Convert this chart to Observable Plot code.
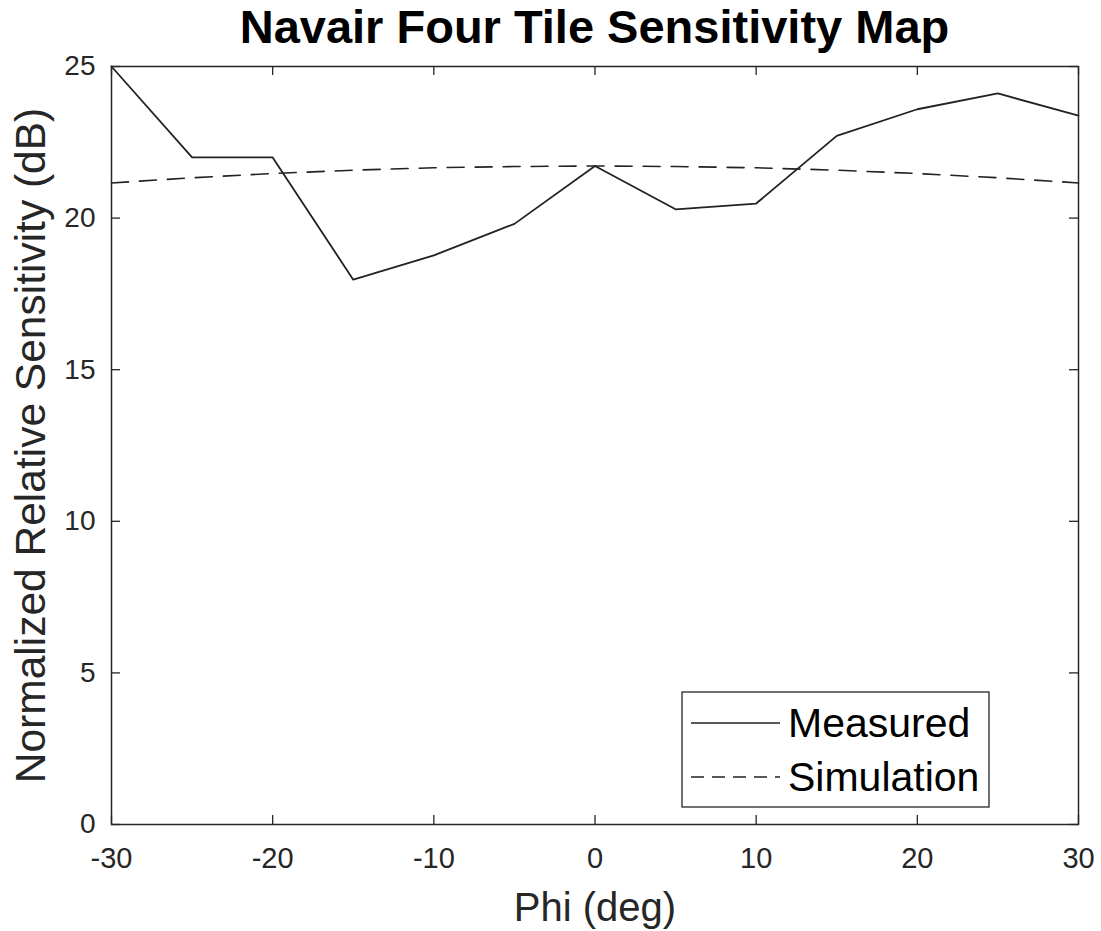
<!DOCTYPE html>
<html><head><meta charset="utf-8">
<script src="https://cdn.jsdelivr.net/npm/d3@7"></script>
<script src="https://cdn.jsdelivr.net/npm/@observablehq/plot@0.6"></script>
<style>
body{margin:0;background:#fff;font-family:"Liberation Sans",Arial,Helvetica,sans-serif;}
#wrap{position:relative;width:1101px;height:931px;overflow:hidden;}
#title{height:54px;line-height:54px;font-size:47px;font-weight:bold;text-align:center;padding-left:111px;padding-right:23px;color:#000;white-space:nowrap;}
#chart svg{overflow:visible;}
</style></head><body>
<div id="wrap"><div id="title">Navair Four Tile Sensitivity Map</div><div id="chart"></div></div>
<script>
const phi = [-30, -25, -20, -15, -10, -5, 0, 5, 10, 15, 20, 25, 30];
const measured = [25.0, 22.0, 22.0, 17.97, 18.77, 19.81, 21.72, 20.29, 20.48, 22.71, 23.59, 24.11, 23.38];
const simulation = [21.16, 21.33, 21.47, 21.58, 21.66, 21.70, 21.72, 21.70, 21.66, 21.58, 21.47, 21.33, 21.16];
const seriesNames = ["Measured", "Simulation"];
const xTicks = [-30, -20, -10, 0, 10, 20, 30];
const yTicks = [0, 5, 10, 15, 20, 25];
const xLabel = "Phi (deg)";
const yLabel = "Normalized Relative Sensitivity (dB)";

const top0 = 54;
const W = 1101, H = 931 - top0;
const mL = 111, mR = 23, mT = 66 - top0, mB = H - (824 - top0);
const pw = W - mL - mR, ph = H - mT - mB;
const tickLen = 9;
const axisColor = "#262626";

const measRows = phi.map((p, i) => ({phi: p, v: measured[i]}));
const simRows = phi.map((p, i) => ({phi: p, v: simulation[i]}));

const chart = Plot.plot({
  width: W, height: H,
  marginLeft: mL, marginRight: mR, marginTop: mT, marginBottom: mB,
  style: {fontFamily: '"Liberation Sans", Arial, sans-serif', color: axisColor, background: "white"},
  x: {domain: [-30, 30]},
  y: {domain: [0, 25]},
  marks: [
    Plot.line(simRows, {x: "phi", y: "v", stroke: "#222", strokeWidth: 1.6, strokeDasharray: "17,11"}),
    Plot.line(measRows, {x: "phi", y: "v", stroke: "#222", strokeWidth: 1.8}),
    Plot.tickX(xTicks, {x: d => d, stroke: axisColor, strokeWidth: 1.3, insetTop: ph - tickLen}),
    Plot.tickX(xTicks, {x: d => d, stroke: axisColor, strokeWidth: 1.3, insetBottom: ph - tickLen}),
    Plot.tickY(yTicks, {y: d => d, stroke: axisColor, strokeWidth: 1.3, insetRight: pw - tickLen}),
    Plot.tickY(yTicks, {y: d => d, stroke: axisColor, strokeWidth: 1.3, insetLeft: pw - tickLen}),
    Plot.frame({stroke: axisColor, strokeWidth: 1.5}),
    Plot.axisX({ticks: xTicks, tickSize: 0, tickPadding: 23, fontSize: 29, label: null, tickFormat: d => String(d)}),
    Plot.axisY({ticks: yTicks, tickSize: 0, tickPadding: 16, fontSize: 28, label: null, tickFormat: d => String(d)}),
    Plot.text([xLabel], {text: d => d, frameAnchor: "bottom", dy: 68, lineAnchor: "top", textAnchor: "middle", fontSize: 40, fill: axisColor}),
    Plot.text([yLabel], {text: d => d, frameAnchor: "left", dx: -97, rotate: -90, lineAnchor: "top", textAnchor: "middle", fontSize: 42.5, fill: axisColor})
  ]
});
document.getElementById("chart").appendChild(chart);

// legend (drawn inside the SVG, lower right of the plot area)
const svg = d3.select(chart);
const lg = svg.append("g").attr("class", "legend").attr("text-anchor", "start");
const bx = 682, by = 692 - top0, bw = 307, bh = 115;
lg.append("rect").attr("x", bx).attr("y", by).attr("width", bw).attr("height", bh)
  .attr("fill", "white").attr("stroke", axisColor).attr("stroke-width", 1.3);
const rowsY = [723 - top0, 777 - top0];
const dashes = [null, "13,8"];
seriesNames.forEach((name, i) => {
  lg.append("line").attr("x1", 691).attr("x2", 780).attr("y1", rowsY[i]).attr("y2", rowsY[i])
    .attr("stroke", "#222").attr("stroke-width", 1.6).attr("stroke-dasharray", dashes[i]);
  lg.append("text").attr("x", 788).attr("y", rowsY[i]).attr("dy", "0.35em")
    .attr("text-anchor", "start").attr("font-size", 41).attr("fill", "#000").text(name);
});
</script>
</body></html>
